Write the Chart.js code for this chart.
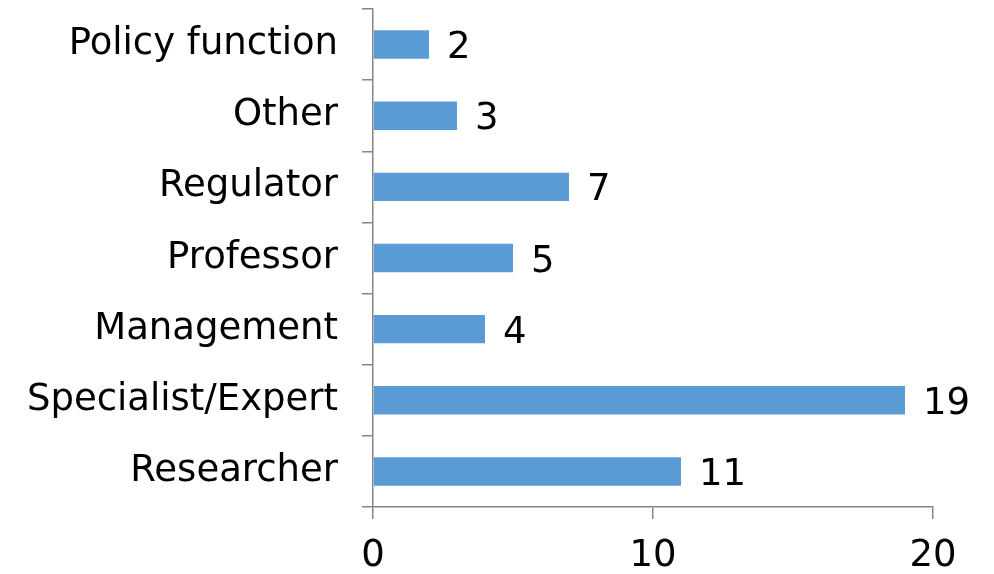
<!DOCTYPE html>
<html>
<head>
<meta charset="utf-8">
<script src="https://cdn.jsdelivr.net/npm/chart.js@4.4.0/dist/chart.umd.min.js"></script>
<style>
  html, body { margin: 0; padding: 0; background: #fff; }
  #wrap { width: 994px; height: 574px; }
</style>
</head>
<body>
<div id="wrap"><canvas id="chart-roles"></canvas></div>
<script>
const categories = [
  'Policy function',
  'Other',
  'Regulator',
  'Professor',
  'Management',
  'Specialist/Expert',
  'Researcher'
];
const counts = [2, 3, 7, 5, 4, 19, 11];
const x_ticks = [0, 10, 20];

const axis_color = '#868686';
const font_family = 'Verdana, "DejaVu Sans", sans-serif';
const font_size = 37;

// draws the value just past the end of each bar
const valueLabels = {
  id: 'valueLabels',
  afterDatasetsDraw(chart) {
    const ctx = chart.ctx;
    const meta = chart.getDatasetMeta(0);
    ctx.save();
    ctx.font = font_size + 'px ' + font_family;
    ctx.fillStyle = '#000';
    ctx.textAlign = 'left';
    ctx.textBaseline = 'middle';
    meta.data.forEach((bar, i) => {
      ctx.fillText(String(counts[i]), bar.x + 18, bar.y + 4);
    });
    ctx.restore();
  }
};

const ctx = document.getElementById('chart-roles');
new Chart(ctx, {
  type: 'bar',
  plugins: [valueLabels],
  data: {
    labels: categories,
    datasets: [{
      data: counts,
      backgroundColor: '#5B9BD5',
      barPercentage: 0.4,
      categoryPercentage: 1.0
    }]
  },
  options: {
    indexAxis: 'y',
    responsive: true,
    maintainAspectRatio: false,
    animation: false,
    layout: { padding: { top: 9, right: 61, left: 0, bottom: 0 } },
    plugins: {
      legend: { display: false },
      tooltip: { enabled: false }
    },
    scales: {
      y: {
        afterFit(scale) {
          scale.width = 373;
          scale.paddingTop = 0;
          scale.paddingBottom = 0;
        },
        border: { color: axis_color, width: 1.5 },
        grid: {
          offset: true,
          drawOnChartArea: false,
          color: axis_color,
          tickLength: 11,
          lineWidth: 1.5
        },
        ticks: {
          color: '#000',
          padding: 24,
          font: { family: font_family, size: font_size }
        }
      },
      x: {
        min: 0,
        max: 20,
        afterFit(scale) { scale.height = 67; },
        afterBuildTicks(scale) { scale.ticks = x_ticks.map(v => ({ value: v })); },
        border: { color: axis_color, width: 1.5 },
        grid: {
          drawOnChartArea: false,
          color: axis_color,
          tickLength: 12,
          lineWidth: 1.5
        },
        ticks: {
          color: '#000',
          padding: 15,
          maxRotation: 0,
          font: { family: font_family, size: font_size }
        }
      }
    }
  }
});
</script>
</body>
</html>
